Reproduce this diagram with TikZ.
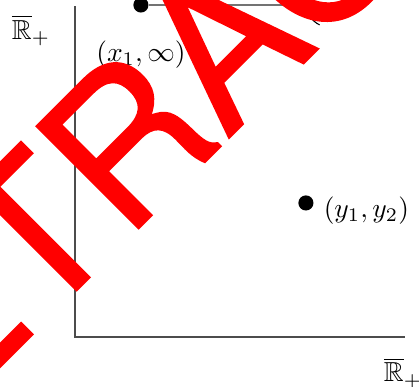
\documentclass[tikz,border=0pt]{standalone}
\usepackage{amssymb}
\usepackage{fontspec}
\newfontfamily\stampfont[FakeBold=1]{TeX Gyre Heros}
\usetikzlibrary{positioning}
\tikzset{
  axis/.style={draw=black!70, line width=0.5pt},
  dot/.style={circle, fill=black, inner sep=0pt, minimum size=5.5pt},
}
\begin{document}
\begin{tikzpicture}
  \useasboundingbox (-0.958,-0.639) rectangle (4.397,4.307);
  % Axes
  \coordinate (o) at (0,0);
  \coordinate (ytop) at (0,4.23);
  \coordinate (xend) at (4.217,0);
  \draw[axis] (ytop) -- (o) -- (xend);
  \node (rtop) at (-0.562,3.923) {$\overline{\mathbb{R}}_+$};
  \node (rright) at (4.192,-0.460) {$\overline{\mathbb{R}}_+$};
  % Point at infinity and its line
  \node[dot] (a) at (0.843,4.243) {};
  \node[below=0.23cm of a] (la) {$(x_1,\infty)$};
  \coordinate (inf) at (2.965,4.243);
  \draw[black!55, line width=0.5pt] (a) -- (inf);
  \draw[line width=0.4pt] (inf) arc[start angle=180, end angle=245, radius=0.28];
  % Finite point
  \node[dot] (b) at (2.952,1.713) {};
  \node[right=0cm of b, yshift=-0.1cm] (lb) {$(y_1,y_2)$};
  % Stamp across the page
  \begin{scope}
    \clip (-0.958,-0.639) rectangle (4.397,4.307);
    \node[text=red, rotate=45, anchor=base, inner sep=0pt,
      font=\stampfont\fontsize{72}{72}\selectfont] (stamp) at (2.505,3.080) {RETRACTED};
  \end{scope}
\end{tikzpicture}
\end{document}
